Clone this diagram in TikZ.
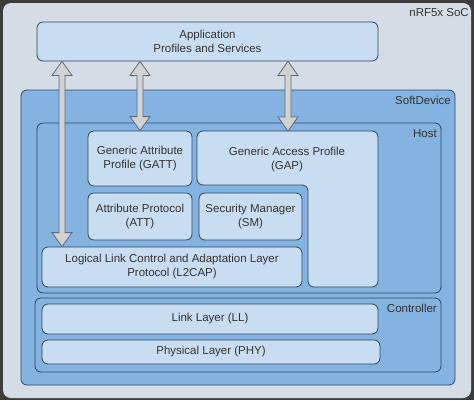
\documentclass[tikz,border=0pt]{standalone}
\usepackage{fontspec}
\setmainfont{Liberation Sans}
\usetikzlibrary{calc}

\definecolor{frame}{HTML}{3C3C3C}
\definecolor{socfill}{HTML}{D4DCE6}
\definecolor{devfill}{HTML}{84B3E1}
\definecolor{boxfill}{HTML}{C8DCF2}
\definecolor{edge}{HTML}{2E4660}
\definecolor{arrowfill}{HTML}{D2D2D2}
\definecolor{txt}{HTML}{333333}

\begin{document}
\begin{tikzpicture}[x=1pt, y=-1pt,
    every node/.style={font=\fontsize{11.5}{14}\selectfont, text=txt},
    layer/.style={draw=edge, line width=0.8pt, rounded corners=6pt, fill=devfill, inner sep=0pt},
    block/.style={draw=edge, line width=0.8pt, rounded corners=6pt, fill=boxfill, align=center, inner sep=0pt},
    tag/.style={anchor=east, inner sep=0pt},
    dbl/.style={draw=edge!80, line width=0.8pt, fill=arrowfill, line join=miter}
  ]
    \useasboundingbox (0,0) rectangle (474,400);
    \fill[frame] (0,0) rectangle (474,400);
    \fill[socfill, rounded corners=8pt] (3,3) rectangle (471,398);
    \node[tag] (soc) at (469,13) {nRF5x SoC};

    % Application on top
    \node[block, minimum width=341, minimum height=39] (app) at (207.5,41.5) {Application\\Profiles and Services};

    % SoftDevice and Host
    \node[layer, minimum width=434, minimum height=295] (softdev) at (238,237.5) {};
    \node[tag] (softlbl) at (451,100) {SoftDevice};
    \node[layer, minimum width=404, minimum height=170] (host) at (239,208) {};
    \node[tag] (hostlbl) at (437,134) {Host};

    \node[block, minimum width=104, minimum height=55] (gatt) at (140,158.5) {Generic Attribute\\Profile (GATT)};
    \draw[block] (197,131) -- (378,131) -- (378,287) -- (308,287) -- (308,185) -- (197,185) -- cycle;
    \node[align=center] (gap) at (287,160) {Generic Access Profile\\(GAP)};
    \coordinate (gaptop) at (288,131);
    \node[block, minimum width=104, minimum height=47] (att) at (140,216.5) {Attribute Protocol\\(ATT)};
    \node[block, minimum width=103, minimum height=47] (sm) at (250.5,216.5) {Security Manager\\(SM)};
    \node[block, minimum width=260, minimum height=40] (l2cap) at (172,267) {Logical Link Control and Adaptation Layer\\Protocol (L2CAP)};

    % Controller
    \node[layer, minimum width=406, minimum height=74] (ctrl) at (238,335) {};
    \node[tag] (ctrllbl) at (437,308) {Controller};
    \node[block, minimum width=336, minimum height=30] (ll) at (210,319) {Link Layer (LL)};
    \node[block, minimum width=338, minimum height=24] (phy) at (211,352) {Physical Layer (PHY)};

    % two-way arrows from the application
    \draw[dbl] let \p1=(app.south -| 62,0), \p2=(l2cap.north -| 62,0) in
      (\x1,\y1) -- ++(10pt,-14pt) -- ++(-7pt,0pt) -- (\x1+3pt,\y2+14pt) -- ++(7pt,0pt) -- (\x1,\y2)
      -- ++(-10pt,14pt) -- ++(7pt,0pt) -- (\x1-3pt,\y1-14pt) -- ++(-7pt,0pt) -- cycle;
    \draw[dbl] let \p1=(app.south -| gatt.north), \p2=(gatt.north) in
      (\x1,\y1) -- ++(10pt,-14pt) -- ++(-7pt,0pt) -- (\x1+3pt,\y2+14pt) -- ++(7pt,0pt) -- (\x1,\y2)
      -- ++(-10pt,14pt) -- ++(7pt,0pt) -- (\x1-3pt,\y1-14pt) -- ++(-7pt,0pt) -- cycle;
    \draw[dbl] let \p1=(app.south -| gaptop), \p2=(gaptop) in
      (\x1,\y1) -- ++(10pt,-14pt) -- ++(-7pt,0pt) -- (\x1+3pt,\y2+14pt) -- ++(7pt,0pt) -- (\x1,\y2)
      -- ++(-10pt,14pt) -- ++(7pt,0pt) -- (\x1-3pt,\y1-14pt) -- ++(-7pt,0pt) -- cycle;
\end{tikzpicture}
\end{document}
